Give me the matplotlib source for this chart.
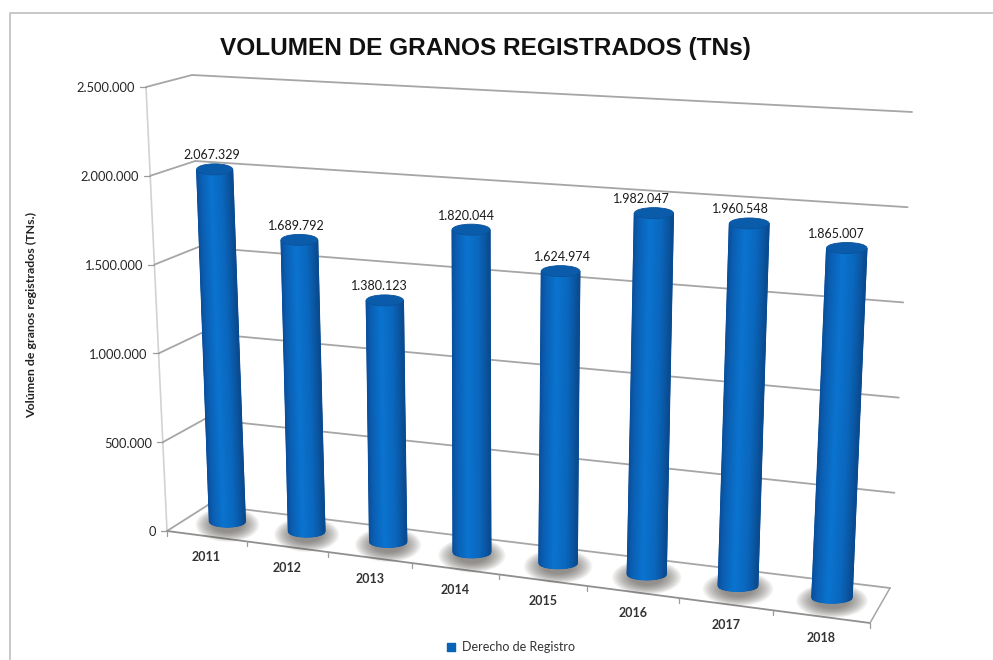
import matplotlib
matplotlib.use("Agg")
import matplotlib.pyplot as plt
from matplotlib.colors import LinearSegmentedColormap
from matplotlib.patches import Ellipse
import numpy as np

# datos
years = ["2011", "2012", "2013", "2014", "2015", "2016", "2017", "2018"]
volumes = [2067329, 1689792, 1380123, 1820044, 1624974, 1982047, 1960548, 1865007]
y_ticks = [0, 500000, 1000000, 1500000, 2000000, 2500000]
y_max = 2500000
series_name = "Derecho de Registro"
title = "VOLUMEN DE GRANOS REGISTRADOS (TNs)"
y_title = "Volúmen de granos registrados (TNs.)"

# esquinas de la caja 3D en pixeles: [izq/der][frente/fondo][abajo/arriba]
box = np.array([[[(167, 531), (146, 87)], [(208, 505), (192, 75)]],
                [[(870, 623), (895, 123)], [(890, 588), (912, 112)]]], dtype=float)
persp = 1.12
bar_height = 0.97  # las barras quedan algo mas bajas que la escala de la pared
label_nudge = [-3, -3, -5, -5, 2, -12, -9, -10]

cyl_cmap = LinearSegmentedColormap.from_list(
    "cyl", [(0, "#0a4f9c"), (0.12, "#0a5fb2"), (0.4, "#0a74d0"),
            (0.72, "#0a66bc"), (0.9, "#0a559f"), (1, "#094a90")])


def fmt(v):
    return f"{v:,}".replace(",", ".")


# proyecta (posicion de categoria, valor, profundidad) a pixeles
def project(cat, value, depth=0.0):
    t = cat / len(years)
    u = t / (persp - (persp - 1) * t)
    v = value / y_max
    bottom_front = box[0, 0, 0] * (1 - u) + box[1, 0, 0] * u
    top_front = box[0, 0, 1] * (1 - u) + box[1, 0, 1] * u
    bottom_back = box[0, 1, 0] * (1 - u) + box[1, 1, 0] * u
    top_back = box[0, 1, 1] * (1 - u) + box[1, 1, 1] * u
    front = bottom_front * (1 - v) + top_front * v
    back = bottom_back * (1 - v) + top_back * v
    return front * (1 - depth) + back * depth


def seg(ax, a, b, color="#a6a6a6", lw=1.3, z=1):
    ax.plot([a[0], b[0]], [a[1], b[1]], color=color, lw=lw, zorder=z, solid_capstyle="round")


def draw_cylinder(ax, top, base, r, cap_h):
    s = np.linspace(-1, 1, 61)
    bulge = cap_h * np.sqrt(1 - s ** 2)
    X = np.array([top[0] + r * s, base[0] + r * s])
    Y = np.array([top[1] + bulge, base[1] + bulge])
    C = np.array([s, s])
    ax.pcolormesh(X, Y, C, shading="gouraud", cmap=cyl_cmap, vmin=-1, vmax=1, zorder=5)
    ax.add_patch(Ellipse(top, 2 * r, 2 * cap_h, fc="#0a5cab", ec="#0b5199", lw=0.6, zorder=6))


fig = plt.figure(figsize=(9.93, 6.6), dpi=100)
ax = fig.add_axes([0, 0, 1, 1])
ax.set_xlim(0, 993)
ax.set_ylim(660, 0)
ax.axis("off")

# marco de la captura
ax.plot([993, 10, 10], [13, 13, 660], color="#c8c8c8", lw=1.4, zorder=0)

n = len(years)

# paredes y lineas de division
seg(ax, project(0, 0), project(0, y_max), color="#d2d2d2", lw=1.2)
for tick in y_ticks:
    seg(ax, project(0, tick), project(0, tick, 1))
    seg(ax, project(0, tick, 1), project(n, tick, 1))
    p = project(0, tick)
    seg(ax, p, p + np.array([-6, 0]), color="#9a9a9a", lw=0.9)
    ax.text(p[0] - 11, p[1] + 1.5, fmt(tick), ha="right", va="center", fontsize=9.3,
            family="Lato", color="#262626")

# piso
seg(ax, project(0, 0), project(n, 0), color="#8f8f8f", lw=1.3)
seg(ax, project(n, 0), project(n, 0, 1), color="#a6a6a6", lw=1.1)
for i in range(n + 1):
    p = project(i, 0)
    seg(ax, p, p + np.array([0, 5]), color="#9a9a9a", lw=0.9)

# barras
for i, (year, vol) in enumerate(zip(years, volumes)):
    base = project(i + 0.5, 0, 0.55) + np.array([-1, 0])
    top = project(i + 0.5, vol * bar_height, 0.55) + np.array([-1, 0])
    r = 18 + 2.2 * i / (n - 1)

    # sombra sobre el piso, difusa hacia afuera
    for k in np.linspace(1.05, 0.45, 22):
        ax.add_patch(Ellipse((base[0], base[1] + 3), 3.4 * r * k, 33 * k, fc="#5c5650",
                             ec="none", alpha=0.045, zorder=3))
    draw_cylinder(ax, top, base, r, 5.5)

    ax.text(top[0] + label_nudge[i], top[1] - 14, fmt(vol), ha="center", va="center",
            fontsize=9, family="Lato", color="#1a1a1a", zorder=8)

    p = project(i + 0.5, 0)
    ax.text(p[0], p[1] + 21, year, ha="center", va="center", fontsize=9,
            family="Lato", fontweight="bold", color="#333333")

ax.text(485.5, 48, title, ha="center", va="center", fontsize=17.6, fontweight="bold",
        family="Liberation Sans", color="#111111")
ax.text(32, 315, y_title, rotation=90, ha="center", va="center", fontsize=8.9,
        fontweight="bold", family="Lato", color="#222222")

# leyenda
ax.scatter([451], [647], marker="s", s=26, color="#0a63b6", zorder=5)
ax.text(462, 647, series_name, ha="left", va="center", fontsize=9, family="Lato", color="#333333")

fig.savefig("out.png", dpi=100)
